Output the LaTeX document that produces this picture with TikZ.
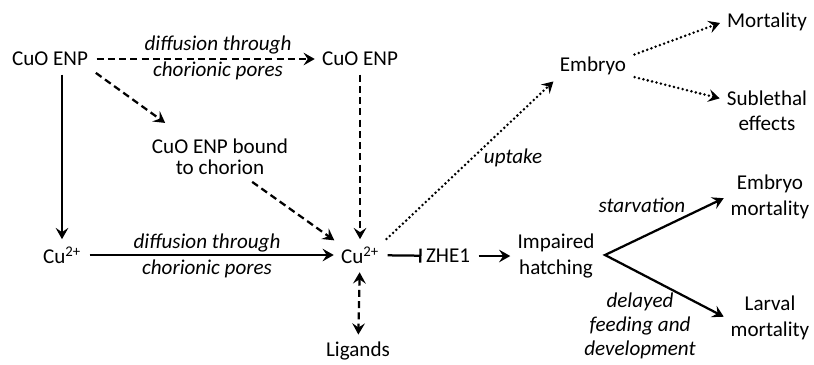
\documentclass[tikz,border=0pt]{standalone}
\usepackage{fontspec}
\setmainfont{Carlito}
\usetikzlibrary{arrows.meta}
\tikzset{
    every node/.style={font=\fontsize{15}{18}\selectfont, align=center, inner sep=3pt},
    lbl/.style={font=\fontsize{15}{18}\selectfont\itshape},
    tip/.style={-{Stealth[length=8pt,width=9pt,inset=3pt]}},
    tips/.style={{Stealth[length=8pt,width=9pt,inset=3pt]}-{Stealth[length=8pt,width=9pt,inset=3pt]}},
    solidarrow/.style={tip, line width=1.6pt, shorten <=3pt, shorten >=2pt},
    dasharrow/.style={tip, line width=1.6pt, dash pattern=on 5pt off 3pt, shorten <=3pt, shorten >=2pt},
    dotarrow/.style={tip, line width=2pt, line cap=round, dash pattern=on 0pt off 3.2pt, shorten <=3pt, shorten >=2pt},
}
\begin{document}
\begin{tikzpicture}[x=0.025cm,y=-0.025cm]
    \useasboundingbox (0,0) rectangle (814,364);
    \node (cuoOut) at (50,59) {CuO ENP};
    \node (cuoIn) at (360,59) {CuO ENP};
    \node (bound) at (220,157) {CuO ENP bound\\[-3pt]to chorion};
    \node (cuOut) at (62,255) {Cu\textsuperscript{2+}};
    \node (cuIn) at (360,255) {Cu\textsuperscript{2+}};
    \node (ligands) at (358,351) {Ligands};
    \node (zhe) at (448,256) {ZHE1};
    \node (hatch) at (556,256) {Impaired\\hatching};
    \node (embryo) at (593,66) {Embryo};
    \node (mort) at (767,22) {Mortality};
    \node (sublethal) at (767,111) {Sublethal\\effects};
    \node (embMort) at (770,197) {Embryo\\mortality};
    \node (larvMort) at (770,318) {Larval\\mortality};
    \coordinate (fork) at (605,255);

    \node[lbl] (diffTop) at (218,58) {diffusion through\\chorionic pores};
    \node[lbl] (diffBot) at (207,256) {diffusion through\\chorionic pores};
    \node[lbl] (uptake) at (513,158) {uptake};
    \node[lbl] (starv) at (642,205) {starvation};
    \node[lbl] (delay) at (640,326) {delayed\\[-1pt]feeding and\\[-1pt]development};

    \draw[dasharrow] (cuoOut) -- (cuoIn);
    \draw[solidarrow] (cuoOut.south -| cuOut) -- (cuOut);
    \draw[dasharrow] (cuoOut.south east) -- ([shift={(20,-10)}]bound.north west);
    \draw[dasharrow] (cuoIn) -- (cuIn);
    \draw[dasharrow] (bound.-38) -- (cuIn.north west);
    \draw[solidarrow] (cuOut) -- (cuIn);
    \draw[line width=1.6pt, -{Bar[width=10pt]}, shorten <=3pt] (cuIn) -- (zhe);
    \draw[solidarrow] (zhe) -- (hatch);
    \draw[dasharrow, tips] (cuIn) -- (ligands);
    \draw[dotarrow] (cuIn.north east) -- (embryo.south west);
    \draw[dotarrow] (embryo.15) -- (mort.west);
    \draw[dotarrow] (embryo.-15) -- (sublethal.165);
    \draw[tips, line width=1.6pt, shorten <=2pt, shorten >=2pt] (embMort.west) -- (fork) -- (larvMort.west);
\end{tikzpicture}
\end{document}
